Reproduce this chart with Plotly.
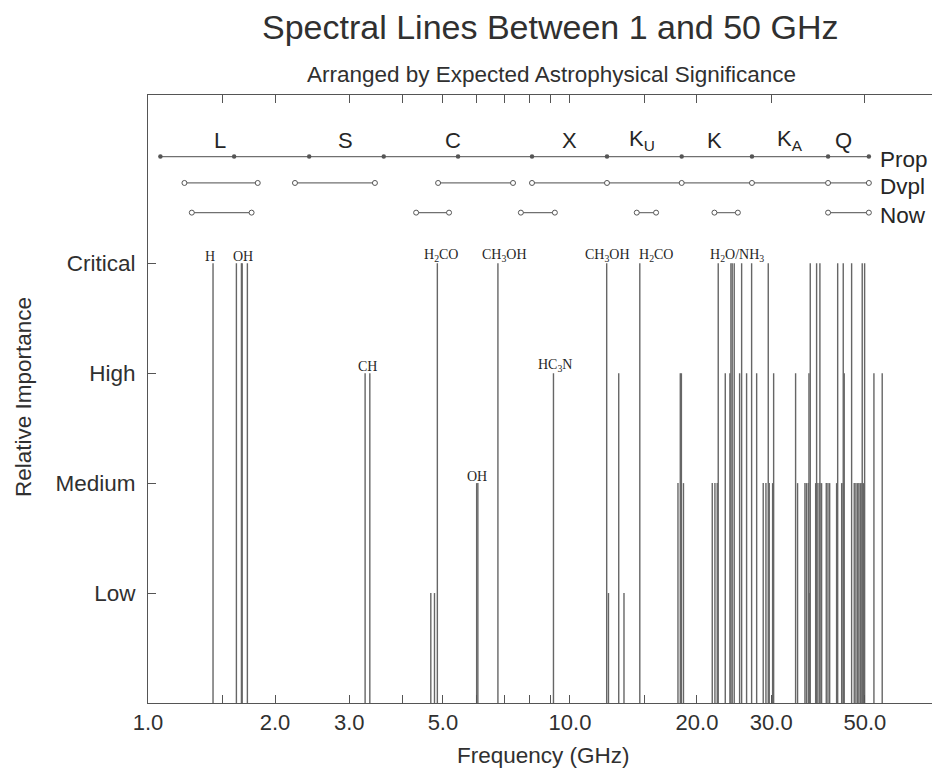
import numpy as np
import plotly.graph_objects as go

# ---------------- data ----------------
# spectral line frequencies (GHz) grouped by relative importance
critical_freq = [1.426, 1.62, 1.665, 1.672, 1.72, 4.85, 6.75, 12.22, 14.64,
                 22.46, 24.07, 24.24, 24.51, 25.52, 26.95, 29.51,
                 37.11, 38.42, 39.12, 43.1, 44.43, 46.51, 49.28, 49.93]
high_freq = [3.27, 3.355, 9.14, 13.05, 18.26, 18.37, 23.34, 23.94, 25.24, 26.22,
             27.70, 30.39, 34.26, 36.85, 44.67, 52.53, 54.96]
medium_freq = [6.01, 6.05, 18.03, 18.58, 21.74, 22.06, 22.34, 28.71, 29.14, 29.67,
               30.22, 34.63, 36.05, 36.35, 36.71, 38.22, 38.70, 39.12, 39.48, 40.50,
               40.88, 41.26, 42.85, 44.05, 44.43, 47.18, 47.62, 48.06, 48.4, 48.8,
               49.2, 49.6]
low_freq = [4.68, 4.775, 12.34, 13.43, 36.94]

importance_levels = [1, 2, 3, 4]
importance_labels = ["Low", "Medium", "High", "Critical"]

# molecule labels
mol_text = ["H", "OH", "CH", "H<sub>2</sub>CO", "CH<sub>3</sub>OH", "OH",
            "HC<sub>3</sub>N", "CH<sub>3</sub>OH", "H<sub>2</sub>CO",
            "H<sub>2</sub>O/NH<sub>3</sub>"]
mol_freq = [1.40, 1.68, 3.31, 4.95, 7.00, 6.03, 9.22, 12.3, 16.0, 24.9]
mol_level = [4, 4, 3, 4, 4, 2, 3, 4, 4, 4]

# receiver band coverage
band_names = ["L", "S", "C", "X", "K<sub>U</sub>", "K", "K<sub>A</sub>", "Q"]
band_center = [1.48, 2.94, 5.29, 9.95, 14.8, 21.98, 33.2, 44.6]
prop_freq = [1.07, 1.60, 2.41, 3.62, 5.43, 8.13, 12.24, 18.4, 27.0, 40.9, 51.1]
dvpl_segments = [[1.22, 1.82], [2.23, 3.45], [4.87, 7.33],
                 [8.13, 12.24, 18.4, 27.0, 40.9, 51.1]]
now_segments = [[1.27, 1.76], [4.32, 5.17], [7.65, 9.21], [14.4, 16.0],
                [22.0, 25.0], [40.9, 51.1]]
row_names = ["Prop", "Dvpl", "Now"]
row_level = [4.97, 4.73, 4.46]
band_label_level = 5.12

x_tickvals = [1, 1.5, 2, 3, 4, 5, 6, 7, 8, 9, 10, 15, 20, 30, 50]
x_ticktext = ["1.0", "", "2.0", "3.0", "", "5.0", "", "", "", "", "10.0", "",
              "20.0", "30.0", "50.0"]

# ---------------- figure ----------------
SANS = "Liberation Sans, Arial, sans-serif"
SERIF = "Liberation Serif, Times New Roman, serif"
TXT = "#262626"
LINE = "#666666"

fig = go.Figure()

groups = [(low_freq, 1), (medium_freq, 2), (high_freq, 3), (critical_freq, 4)]
for freqs, lvl in groups:
    xs, ys = [], []
    for f in freqs:
        xs += [f, f, None]
        ys += [0, lvl, None]
    fig.add_trace(go.Scatter(x=xs, y=ys, mode="lines",
                             line=dict(color=LINE, width=1.4),
                             hoverinfo="skip", showlegend=False))

# band rows
fig.add_trace(go.Scatter(x=prop_freq, y=[row_level[0]] * len(prop_freq),
                         mode="lines+markers",
                         line=dict(color="#707070", width=1.2),
                         marker=dict(size=4.5, color="#555555"),
                         showlegend=False, hoverinfo="skip"))
for seg in dvpl_segments:
    fig.add_trace(go.Scatter(x=seg, y=[row_level[1]] * len(seg),
                             mode="lines+markers",
                             line=dict(color="#707070", width=1.2),
                             marker=dict(size=5, color="white", symbol="circle",
                                         line=dict(color="#555555", width=1)),
                             showlegend=False, hoverinfo="skip"))
for seg in now_segments:
    fig.add_trace(go.Scatter(x=seg, y=[row_level[2]] * len(seg),
                             mode="lines+markers",
                             line=dict(color="#707070", width=1.2),
                             marker=dict(size=5, color="white", symbol="circle",
                                         line=dict(color="#555555", width=1)),
                             showlegend=False, hoverinfo="skip"))

annotations = []
for name, c in zip(band_names, band_center):
    annotations.append(dict(x=np.log10(c), y=band_label_level, xref="x", yref="y",
                            text=name, showarrow=False,
                            font=dict(family=SANS, size=22, color=TXT)))
for name, lvl in zip(row_names, row_level):
    annotations.append(dict(x=np.log10(prop_freq[-1]) + 0.022, y=lvl - 0.03,
                            xref="x", yref="y", xanchor="left",
                            text=name, showarrow=False,
                            font=dict(family=SANS, size=22.5, color=TXT)))
for t, f, lvl in zip(mol_text, mol_freq, mol_level):
    annotations.append(dict(x=np.log10(f), y=lvl, xref="x", yref="y",
                            yanchor="bottom", yshift=-3, text=t, showarrow=False,
                            font=dict(family=SERIF, size=14, color=TXT)))

# titles
annotations += [
    dict(x=0.508, y=1.112, xref="paper", yref="paper", xanchor="center", yanchor="middle",
         text="Spectral Lines Between 1 and 50 GHz",
         showarrow=False, font=dict(family=SANS, size=34, color="#303030")),
    dict(x=0.509, y=1.033, xref="paper", yref="paper", xanchor="center", yanchor="middle",
         text="Arranged by Expected Astrophysical Significance",
         showarrow=False, font=dict(family=SANS, size=22.5, color="#303030")),
    dict(x=0.499, y=-0.086, xref="paper", yref="paper", xanchor="center", yanchor="middle",
         text="Frequency (GHz)",
         showarrow=False, font=dict(family=SANS, size=22.5, color="#303030")),
    dict(x=-0.158, y=0.503, xref="paper", yref="paper", xanchor="center", yanchor="middle",
         text="Relative Importance",
         textangle=-90, showarrow=False, font=dict(family=SANS, size=22.5, color="#303030")),
]

# the page adds an 8 px body margin, so the figure is offset by 8 px
fig.update_layout(
    width=940, height=772,
    margin=dict(l=140, r=8, t=87, b=77),
    paper_bgcolor="white", plot_bgcolor="white",
    annotations=annotations,
    showlegend=False,
)
fig.update_xaxes(type="log", range=[0, 1.877],
                 tickvals=x_tickvals, ticktext=x_ticktext,
                 ticks="inside", ticklen=8, tickcolor="#555555",
                 showline=True, linecolor="#555555", linewidth=1, mirror="ticks",
                 showgrid=False, zeroline=False,
                 tickfont=dict(family=SANS, size=22, color="#303030"),
                 ticklabelstandoff=0)
fig.update_yaxes(range=[0, 5.53],
                 tickvals=importance_levels, ticktext=importance_labels,
                 ticks="inside", ticklen=8, tickcolor="#555555",
                 showline=True, linecolor="#555555", linewidth=1, mirror="ticks",
                 showgrid=False, zeroline=False,
                 tickfont=dict(family=SANS, size=22.5, color="#303030"),
                 ticklabelstandoff=7)

fig.write_html("out.html")
